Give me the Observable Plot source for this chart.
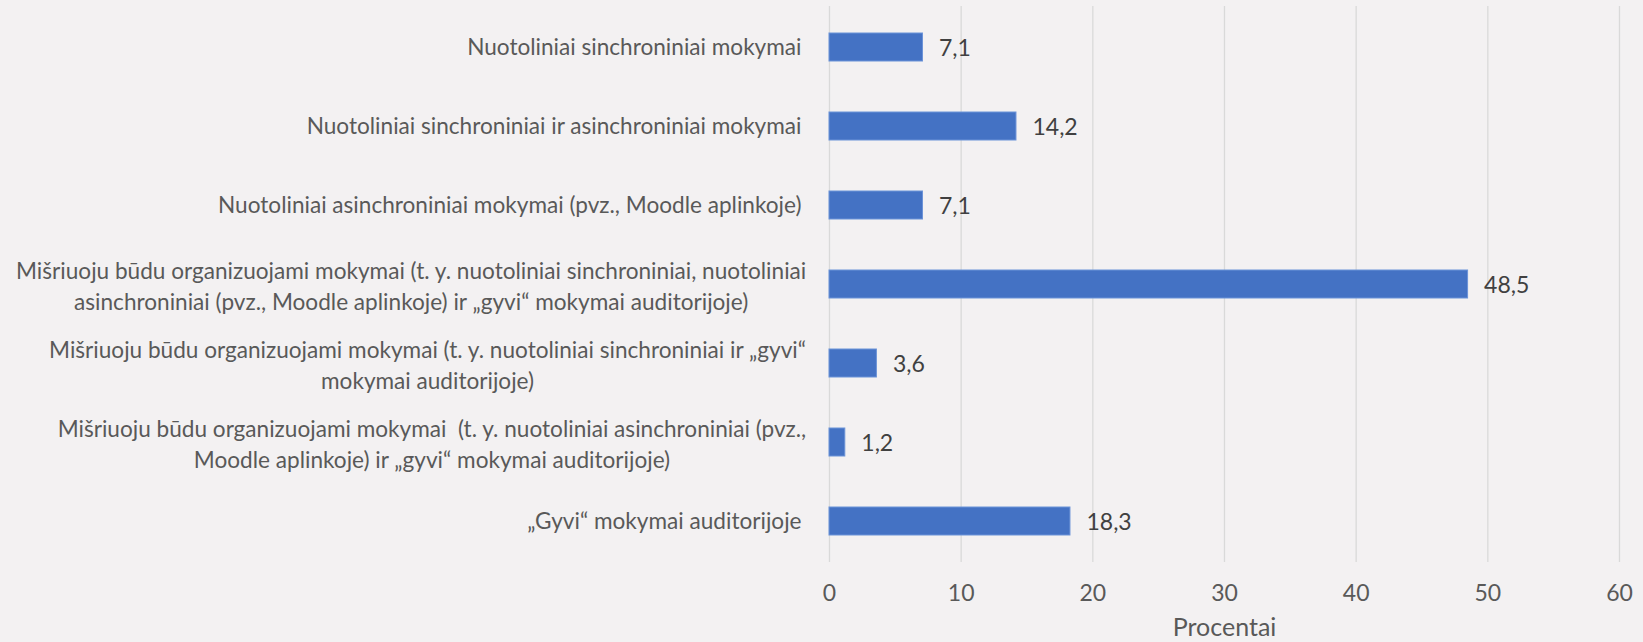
<!DOCTYPE html>
<html><head><meta charset="utf-8">
<script src="https://cdn.jsdelivr.net/npm/d3@7"></script>
<script src="https://cdn.jsdelivr.net/npm/@observablehq/plot@0.6"></script>
<style>
html,body{margin:0;padding:0;background:#f3f1f2;}
#chart svg{display:block;}
</style></head><body><div id="chart"></div>
<script>
const categories = [
  "Nuotoliniai sinchroniniai mokymai",
  "Nuotoliniai sinchroniniai ir asinchroniniai mokymai",
  "Nuotoliniai asinchroniniai mokymai (pvz., Moodle aplinkoje)",
  "Mišriuoju būdu organizuojami mokymai (t. y. nuotoliniai sinchroniniai, nuotoliniai\nasinchroniniai (pvz., Moodle aplinkoje) ir „gyvi“ mokymai auditorijoje)",
  "Mišriuoju būdu organizuojami mokymai (t. y. nuotoliniai sinchroniniai ir „gyvi“\nmokymai auditorijoje)",
  "Mišriuoju būdu organizuojami mokymai  (t. y. nuotoliniai asinchroniniai (pvz.,\nMoodle aplinkoje) ir „gyvi“ mokymai auditorijoje)",
  "„Gyvi“ mokymai auditorijoje"
];
const values = [7.1, 14.2, 7.1, 48.5, 3.6, 1.2, 18.3];
const xTicks = [0, 10, 20, 30, 40, 50, 60];
const xLabel = "Procentai";

const FONT = "Lato, 'Open Sans', sans-serif";
const FS = 22.6;
const fmt = v => v.toFixed(1).replace(".", ",");
const data = categories.map((c, i) => ({cat: c, value: values[i]}));

const ctx = document.createElement("canvas").getContext("2d");
ctx.font = `${FS}px Lato`;
const labelMarks = categories.map(c => {
  const lines = c.split("\n");
  if (lines.length === 1) {
    return Plot.text([c], {y: d => d, frameAnchor: "left", textAnchor: "end", dx: -28,
      lineAnchor: "middle", fill: "#595959", fontSize: FS});
  }
  const w = Math.max(...lines.map(l => ctx.measureText(l).width));
  return Plot.text([c], {y: d => d, frameAnchor: "left", textAnchor: "middle", dx: -23 - w / 2,
    lineAnchor: "middle", lineHeight: 1.37, fill: "#595959", fontSize: FS});
});

const chart = Plot.plot({
  width: 1643, height: 642,
  marginLeft: 829, marginRight: 24, marginTop: 6, marginBottom: 80,
  style: {background: "#f3f1f2", fontFamily: FONT, fontSize: FS + "px", color: "#595959"},
  x: {domain: [0, 60], ticks: xTicks},
  y: {domain: categories, paddingInner: 0.648, paddingOuter: 0.324, axis: null},
  marks: [
    Plot.ruleX(xTicks, {x: d => d, stroke: "#d9d9d9", strokeWidth: 1.3}),
    Plot.barX(data, {x: "value", y: "cat", fill: "#4472c4", stroke: "#6b93d8", strokeWidth: 1}),
    Plot.text(data, {x: "value", y: "cat", text: d => fmt(d.value), textAnchor: "start", dx: 16, dy: 1,
      fill: "#404040", fontSize: 23}),
    Plot.axisX({ticks: xTicks, tickSize: 0, tickPadding: 22, fontSize: 23, fill: "#595959", label: null}),
    ...labelMarks,
    Plot.text([xLabel], {frameAnchor: "bottom", dy: 65, lineAnchor: "middle", fill: "#595959", fontSize: 25})
  ]
});
document.getElementById("chart").append(chart);
</script></body></html>
